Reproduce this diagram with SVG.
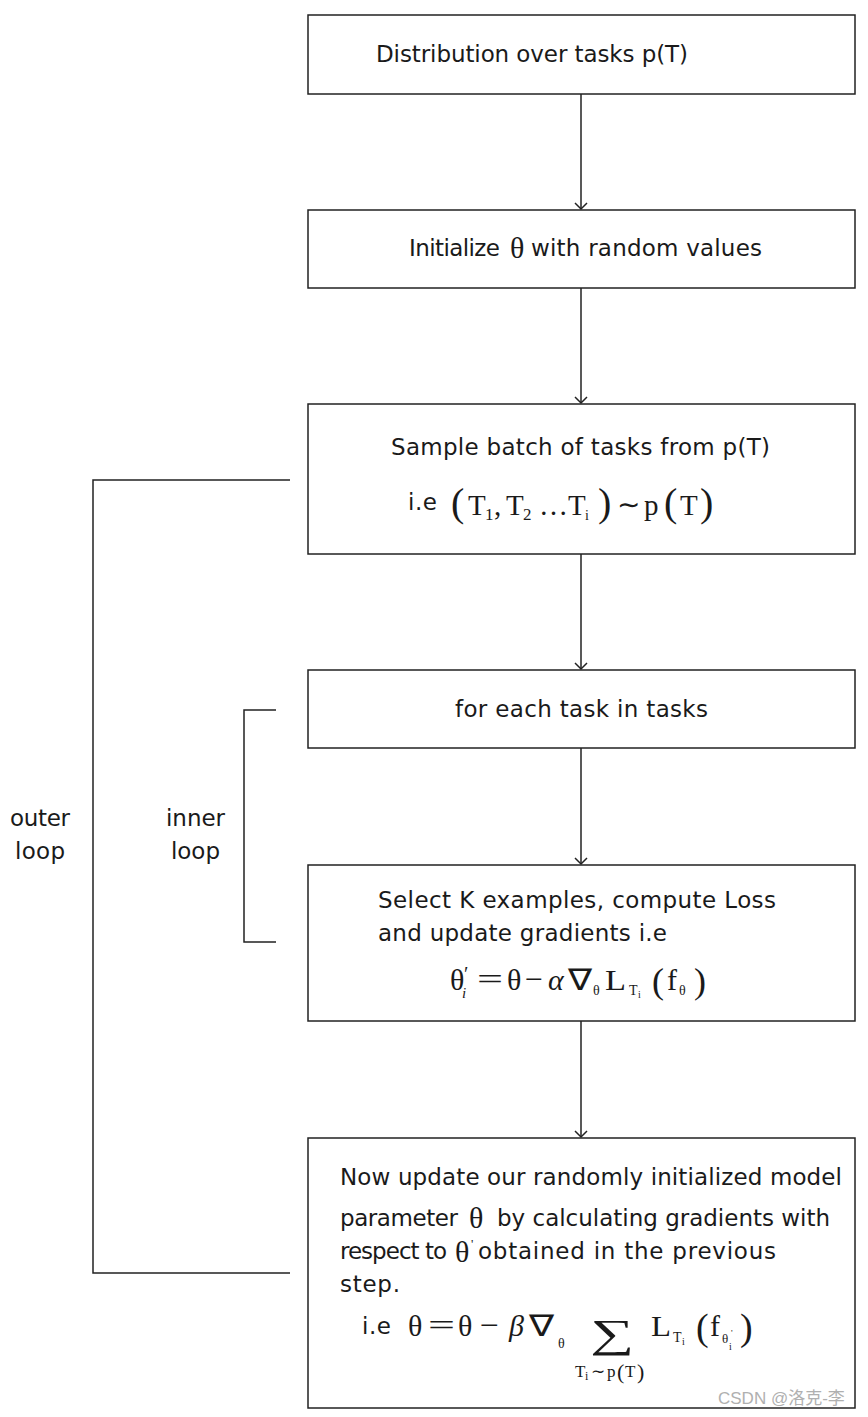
<svg xmlns="http://www.w3.org/2000/svg" width="868" height="1417" viewBox="0 0 868 1417">
<defs>
<style>
.box{fill:#fff;stroke:#222;stroke-width:1.5}
.ln{fill:none;stroke:#222;stroke-width:1.5}
.t{font-family:"DejaVu Sans","Liberation Sans",sans-serif;font-size:23px;fill:#1a1a1a}
.m{font-family:"Liberation Serif","Times New Roman",serif;fill:#1a1a1a}
.wm{font-family:"Liberation Sans","Noto Sans CJK SC",sans-serif;font-size:17px;fill:#b0b0b0}
</style>
</defs>
<rect width="868" height="1417" fill="#fff"/>
<g id="connectors">
<path class="ln" d="M581,94 V209"/>
<path class="ln" d="M575,203 L581,209 L587,203"/>
<path class="ln" d="M581,288 V403"/>
<path class="ln" d="M575,397 L581,403 L587,397"/>
<path class="ln" d="M581,554 V669"/>
<path class="ln" d="M575,663 L581,669 L587,663"/>
<path class="ln" d="M581,748 V864"/>
<path class="ln" d="M575,858 L581,864 L587,858"/>
<path class="ln" d="M581,1021 V1137"/>
<path class="ln" d="M575,1131 L581,1137 L587,1131"/>
</g>
<g id="outer-loop">
<path class="ln" d="M290,480 H93 V1273 H290"/>
<text class="t" x="10" y="826" textLength="60">outer</text>
<text class="t" x="15" y="859" textLength="50">loop</text>
</g>
<g id="inner-loop">
<path class="ln" d="M276,710 H244 V942 H276"/>
<text class="t" x="166" y="826" textLength="59">inner</text>
<text class="t" x="171" y="859" textLength="49">loop</text>
</g>
<g id="node1">
<rect class="box" x="308" y="15" width="547" height="79"/>
<text class="t" x="376" y="62" textLength="312">Distribution over tasks p(T)</text>
</g>
<g id="node2">
<rect class="box" x="308" y="210" width="547" height="78"/>
<text class="t" x="409" y="256" textLength="91">Initialize</text>
<text class="m" x="510" y="258" font-size="30">θ</text>
<text class="t" x="531" y="256" textLength="231">with random values</text>
</g>
<g id="node3">
<rect class="box" x="308" y="404" width="547" height="150"/>
<text class="t" x="391" y="455" textLength="379">Sample batch of tasks from p(T)</text>
<text class="t" x="408" y="510" textLength="29">i.e</text>
<text class="m" y="515" font-size="29"><tspan x="451" font-size="40" dy="1">(</tspan><tspan x="468" dy="-1">T</tspan><tspan x="485" font-size="17" dy="5">1</tspan><tspan x="494" dy="-5">,</tspan><tspan x="506">T</tspan><tspan x="523" font-size="17" dy="5">2</tspan><tspan x="539" dy="-5">…</tspan><tspan x="568">T</tspan><tspan x="585" font-size="14" dy="5">i</tspan><tspan x="598" font-size="40" dy="-4">)</tspan><tspan x="644" dy="-1">p</tspan><tspan x="664" font-size="40" dy="1">(</tspan><tspan x="680" dy="-1">T</tspan><tspan x="700" font-size="40" dy="1">)</tspan></text>
<text class="m" x="617" y="514" font-size="28" textLength="23" lengthAdjust="spacingAndGlyphs">∼</text>
</g>
<g id="node4">
<rect class="box" x="308" y="670" width="547" height="78"/>
<text class="t" x="455" y="717" textLength="253">for each task in tasks</text>
</g>
<g id="node5">
<rect class="box" x="308" y="865" width="547" height="156"/>
<text class="t" x="378" y="908" textLength="398">Select K examples, compute Loss</text>
<text class="t" x="378" y="941" textLength="289">and update gradients i.e</text>
<text class="m" y="990" font-size="30"><tspan x="450">θ</tspan><tspan x="464" font-size="20" dy="-9">′</tspan><tspan x="462" font-size="15" font-style="italic" dy="17">i</tspan><tspan x="507" dy="-8">θ</tspan><tspan x="548" font-style="italic">α</tspan><tspan x="593" font-size="14" dy="5">θ</tspan><tspan x="629" font-size="14">T</tspan><tspan x="638" font-size="10" dy="3">i</tspan><tspan x="652" font-size="36" dy="-5">(</tspan><tspan x="667" dy="-3">f</tspan><tspan x="679" font-size="14" dy="5">θ</tspan><tspan x="694" font-size="36" dy="-2">)</tspan></text>
<text class="m" x="568" y="990" font-size="30" textLength="24" lengthAdjust="spacingAndGlyphs">∇</text>
<text class="m" x="605" y="990" font-size="30" textLength="21" lengthAdjust="spacingAndGlyphs">L</text>
<text class="m" x="477" y="989" font-size="30" textLength="26" lengthAdjust="spacingAndGlyphs">=</text>
<text class="m" x="525" y="989" font-size="30" textLength="18" lengthAdjust="spacingAndGlyphs">−</text>
</g>
<g id="node6">
<rect class="box" x="308" y="1138" width="547" height="270"/>
<text class="t" x="340" y="1185" textLength="502">Now update our randomly initialized model</text>
<text class="t" x="340" y="1226" textLength="118">parameter</text>
<text class="m" x="469" y="1228" font-size="30">θ</text>
<text class="t" x="497" y="1226" textLength="333">by calculating gradients with</text>
<text class="t" x="340" y="1259" textLength="107">respect to</text>
<text class="m" x="455" y="1262" font-size="30">θ</text>
<text class="m" x="471" y="1248" font-size="13">'</text>
<text class="t" x="478" y="1259" textLength="298">obtained in the previous</text>
<text class="t" x="340" y="1292" textLength="60">step.</text>
<text class="t" x="362" y="1334" textLength="29">i.e</text>
<text class="m" y="1336" font-size="30"><tspan x="408">θ</tspan><tspan x="458">θ</tspan><tspan x="509" font-style="italic">β</tspan><tspan x="558" font-size="14" dy="12">θ</tspan><tspan x="673" font-size="14" dy="-6">T</tspan><tspan x="682" font-size="10" dy="3">i</tspan><tspan x="696" font-size="38" dy="-5">(</tspan><tspan x="710" dy="-4">f</tspan><tspan x="722" font-size="13" dy="7">θ</tspan><tspan x="731" font-size="9" dy="-7">'</tspan><tspan x="729" font-size="10" dy="14">i</tspan><tspan x="740" font-size="38" dy="-10">)</tspan></text>
<text class="m" x="529" y="1336" font-size="30" textLength="25" lengthAdjust="spacingAndGlyphs">∇</text>
<text class="m" x="651" y="1336" font-size="30" textLength="20" lengthAdjust="spacingAndGlyphs">L</text>
<text class="m" x="428" y="1335" font-size="30" textLength="27" lengthAdjust="spacingAndGlyphs">=</text>
<text class="m" x="480" y="1335" font-size="30" textLength="19" lengthAdjust="spacingAndGlyphs">−</text>
<text class="m" x="590" y="1347" font-size="40" textLength="44" lengthAdjust="spacingAndGlyphs">∑</text>
<text class="m" y="1377" font-size="17"><tspan x="575">T</tspan><tspan x="585" font-size="12" dy="3">i</tspan><tspan x="591" dy="-3">∼</tspan><tspan x="607">p</tspan><tspan x="617" font-size="22" dy="2">(</tspan><tspan x="625" dy="-2">T</tspan><tspan x="637" font-size="22" dy="2">)</tspan></text>
<text class="wm" x="718" y="1404">CSDN @洛克-李</text>
</g>
</svg>
